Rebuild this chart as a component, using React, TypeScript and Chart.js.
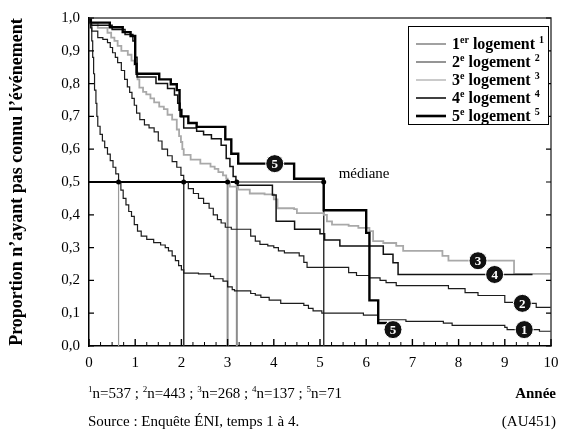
import React, { useEffect, useRef } from 'react';
import { Chart, registerables } from 'chart.js';
Chart.register(...registerables);

// ---- data ----
const xTickLabels = ['0', '1', '2', '3', '4', '5', '6', '7', '8', '9', '10'];
const xTickValues = [0, 1, 2, 3, 4, 5, 6, 7, 8, 9, 10];
const yTickValues = [0, 0.1, 0.2, 0.3, 0.4, 0.5, 0.6, 0.7, 0.8, 0.9, 1.0];

const curve1: [number, number][] = [
  [0, 1.0], [0.03, 0.97], [0.06, 0.93], [0.08, 0.88], [0.1, 0.83], [0.12, 0.78], [0.15, 0.74], [0.17, 0.7],
  [0.19, 0.67], [0.24, 0.645], [0.29, 0.625], [0.34, 0.605], [0.4, 0.585], [0.46, 0.565], [0.52, 0.545],
  [0.58, 0.525], [0.64, 0.5], [0.69, 0.475], [0.74, 0.45], [0.8, 0.43], [0.86, 0.41], [0.92, 0.395],
  [0.98, 0.37], [1.05, 0.35], [1.13, 0.335], [1.25, 0.325], [1.4, 0.315], [1.55, 0.308], [1.65, 0.3],
  [1.72, 0.29], [1.8, 0.275], [1.87, 0.26], [1.94, 0.245], [2.0, 0.232], [2.05, 0.222], [2.37, 0.22],
  [2.63, 0.212], [2.7, 0.205], [2.9, 0.198], [3.0, 0.18], [3.1, 0.172], [3.15, 0.168], [3.5, 0.16],
  [3.6, 0.155], [3.72, 0.148], [3.9, 0.14], [4.15, 0.13], [4.65, 0.124], [4.75, 0.115], [4.85, 0.107],
  [5.04, 0.1], [5.94, 0.094], [6.26, 0.08], [6.86, 0.075], [7.67, 0.07], [7.86, 0.063], [9.0, 0.057],
  [9.05, 0.05], [9.75, 0.045], [10, 0.045],
];
const curve2: [number, number][] = [
  [0, 1.0], [0.03, 0.98], [0.06, 0.96], [0.19, 0.94], [0.3, 0.935], [0.4, 0.925], [0.46, 0.91], [0.51, 0.894],
  [0.57, 0.88], [0.62, 0.864], [0.7, 0.84], [0.77, 0.813], [0.83, 0.79], [0.88, 0.773], [0.93, 0.755],
  [0.98, 0.734], [1.03, 0.71], [1.1, 0.69], [1.2, 0.674], [1.3, 0.665], [1.41, 0.653], [1.5, 0.625],
  [1.58, 0.6], [1.7, 0.58], [1.8, 0.562], [1.9, 0.545], [1.99, 0.52], [2.05, 0.5], [2.15, 0.48],
  [2.26, 0.465], [2.37, 0.45], [2.48, 0.435], [2.6, 0.42], [2.69, 0.4], [2.78, 0.385], [2.86, 0.375],
  [2.95, 0.362], [3.08, 0.356], [3.5, 0.335], [3.6, 0.32], [3.7, 0.31], [3.87, 0.305], [4.0, 0.3],
  [4.1, 0.29], [4.23, 0.284], [4.55, 0.275], [4.65, 0.255], [4.72, 0.24], [5.62, 0.224], [5.79, 0.215],
  [6.07, 0.208], [6.3, 0.2], [6.43, 0.193], [6.65, 0.184], [7.78, 0.175], [8.14, 0.163], [8.42, 0.154],
  [9.0, 0.133], [9.2, 0.13], [9.68, 0.118], [10, 0.118],
];
const curve3: [number, number][] = [
  [0, 1.0], [0.03, 0.985], [0.19, 0.97], [0.4, 0.955], [0.48, 0.94], [0.55, 0.93], [0.62, 0.915], [0.7, 0.9],
  [0.84, 0.888], [0.92, 0.87], [0.98, 0.858], [1.02, 0.835], [1.05, 0.813], [1.09, 0.788], [1.17, 0.775],
  [1.24, 0.767], [1.33, 0.755], [1.41, 0.743], [1.52, 0.73], [1.62, 0.722], [1.7, 0.705], [1.8, 0.69],
  [1.9, 0.66], [1.95, 0.64], [1.99, 0.622], [2.02, 0.6], [2.05, 0.583], [2.2, 0.568], [2.41, 0.556],
  [2.63, 0.547], [2.72, 0.54], [2.8, 0.53], [2.9, 0.52], [2.97, 0.51], [3.0, 0.5], [3.05, 0.486],
  [3.23, 0.477], [3.48, 0.465], [3.8, 0.462], [4.0, 0.447], [4.08, 0.42], [4.44, 0.417], [4.5, 0.405],
  [5.08, 0.4], [5.15, 0.38], [5.26, 0.37], [5.62, 0.366], [5.83, 0.36], [6.07, 0.35], [6.15, 0.32],
  [6.37, 0.314], [6.65, 0.305], [6.8, 0.29], [7.65, 0.275], [7.78, 0.26], [9.2, 0.22], [10, 0.22],
];
const curve4: [number, number][] = [
  [0, 1.0], [0.05, 0.978], [0.5, 0.965], [0.78, 0.95], [0.95, 0.93], [1.0, 0.88], [1.04, 0.82], [1.45, 0.8],
  [1.7, 0.785], [1.85, 0.765], [1.92, 0.74], [1.97, 0.7], [2.05, 0.665], [2.33, 0.655], [2.48, 0.644],
  [2.65, 0.632], [2.86, 0.612], [2.97, 0.572], [3.05, 0.547], [3.12, 0.517], [3.18, 0.5], [3.22, 0.49],
  [3.97, 0.46], [4.05, 0.38], [4.45, 0.356], [5.0, 0.342], [5.1, 0.323], [5.43, 0.305], [6.37, 0.28],
  [6.58, 0.254], [6.69, 0.218], [9.6, 0.218],
];
const curve5: [number, number][] = [
  [0, 1.0], [0.03, 0.986], [0.45, 0.972], [0.73, 0.957], [0.9, 0.945], [1.0, 0.86], [1.03, 0.83],
  [1.52, 0.813], [1.77, 0.798], [1.9, 0.78], [1.96, 0.72], [2.0, 0.7], [2.15, 0.68], [2.33, 0.668],
  [2.95, 0.63], [3.08, 0.586], [3.23, 0.556], [4.44, 0.51], [5.08, 0.414], [6.0, 0.345], [6.07, 0.139],
  [6.26, 0.07], [6.45, 0.07],
];

const medianTimes = [0.64, 2.05, 3.0, 3.2, 5.08];
const medianLevel = 0.5;

const markerLabels = ['1', '2', '3', '4', '5', '5'];
const markerTimes = [9.42, 9.38, 8.42, 8.78, 6.58, 4.02];
const markerValues = [0.05, 0.13, 0.26, 0.218, 0.05, 0.556];

const legendNumbers = ['1', '2', '3', '4', '5'];
const legendOrdinals = ['er', 'e', 'e', 'e', 'e'];
const legendText = 'logement';
const sampleSizes = ['537', '443', '268', '137', '71'];

const yAxisTitle = 'Proportion n\u2019ayant pas connu l\u2019événement';
const xAxisTitle = 'Année';
const sourceText = 'Source : Enquête ÉNI, temps 1 à 4.';
const codeText = '(AU451)';
const medianText = 'médiane';

const SERIF = '"Liberation Serif", "Times New Roman", serif';

const curveStyles = [
  { color: '#1c1c1c', width: 1.2 },
  { color: '#1c1c1c', width: 1.2 },
  { color: '#a9a9a9', width: 1.8 },
  { color: '#111111', width: 1.5 },
  { color: '#000000', width: 2.4 },
];
const legendStyles = [
  { color: '#8a8a8a', width: 1.6 },
  { color: '#7a7a7a', width: 1.6 },
  { color: '#bdbdbd', width: 1.6 },
  { color: '#111111', width: 1.6 },
  { color: '#000000', width: 2.6 },
];
const medianStyles = [
  { color: '#9a9a9a', width: 1.2 },
  { color: '#333333', width: 1 },
  { color: '#8c8c8c', width: 2 },
  { color: '#8c8c8c', width: 2 },
  { color: '#333333', width: 1 },
];

type Part = { t: string; sup?: boolean };
function drawRich(ctx: CanvasRenderingContext2D, parts: Part[], x: number, y: number, size: number, bold: boolean, align: 'left' | 'right' = 'left') {
  const w = (p: Part) => {
    ctx.font = `${bold ? 'bold ' : ''}${p.sup ? Math.round(size * 0.6) : size}px ${SERIF}`;
    return ctx.measureText(p.t).width;
  };
  const total = parts.reduce((s, p) => s + w(p), 0);
  let cx = align === 'left' ? x : x - total;
  ctx.textAlign = 'left';
  ctx.textBaseline = 'alphabetic';
  for (const p of parts) {
    ctx.font = `${bold ? 'bold ' : ''}${p.sup ? Math.round(size * 0.6) : size}px ${SERIF}`;
    ctx.fillText(p.t, cx, p.sup ? y - size * 0.4 : y);
    cx += ctx.measureText(p.t).width;
  }
}

const overlay = {
  id: 'overlay',
  afterDraw(chart: any) {
    const ctx: CanvasRenderingContext2D = chart.ctx;
    const xs = chart.scales.x;
    const ys = chart.scales.y;
    const a = chart.chartArea;
    ctx.save();
    // frame top and right
    ctx.strokeStyle = '#444';
    ctx.lineWidth = 1.5;
    ctx.beginPath();
    ctx.moveTo(a.left, a.top);
    ctx.lineTo(a.right, a.top);
    ctx.lineTo(a.right, a.bottom);
    ctx.stroke();
    // y ticks left and right (inward)
    ctx.strokeStyle = '#000';
    ctx.lineWidth = 1.2;
    for (const v of yTickValues) {
      const py = ys.getPixelForValue(v);
      ctx.beginPath();
      ctx.moveTo(a.left, py); ctx.lineTo(a.left + 5, py);
      ctx.moveTo(a.right, py); ctx.lineTo(a.right - 5, py);
      ctx.stroke();
    }
    // x ticks major + minor
    for (let i = 0; i < xTickValues.length; i++) {
      const v = xTickValues[i];
      const px = xs.getPixelForValue(v);
      ctx.lineWidth = 1.4;
      ctx.beginPath(); ctx.moveTo(px, a.bottom); ctx.lineTo(px, a.bottom - 7); ctx.stroke();
      if (i < xTickValues.length - 1) {
        ctx.lineWidth = 1;
        for (const f of [0.25, 0.5, 0.75]) {
          const mx = xs.getPixelForValue(v + f);
          ctx.beginPath(); ctx.moveTo(mx, a.bottom); ctx.lineTo(mx, a.bottom - 4); ctx.stroke();
        }
      }
    }
    // x tick labels
    ctx.fillStyle = '#000';
    ctx.font = `15px ${SERIF}`;
    ctx.textBaseline = 'middle';
    for (let i = 0; i < xTickValues.length; i++) {
      let px = xs.getPixelForValue(xTickValues[i]);
      const tw = ctx.measureText(xTickLabels[i]).width;
      if (px + tw / 2 > 559) px = 559 - tw / 2;
      ctx.textAlign = 'center';
      ctx.fillText(xTickLabels[i], px, a.bottom + 17);
    }
    // y axis title
    ctx.save();
    ctx.translate(17, (a.top + a.bottom) / 2);
    ctx.rotate(-Math.PI / 2);
    ctx.font = `bold 18px ${SERIF}`;
    ctx.textAlign = 'center';
    ctx.textBaseline = 'middle';
    ctx.fillText(yAxisTitle, 0, 0);
    ctx.restore();
    // median text
    const mx = xs.getPixelForValue(medianTimes[medianTimes.length - 1]);
    const my = ys.getPixelForValue(medianLevel);
    ctx.font = `15px ${SERIF}`;
    ctx.textAlign = 'left';
    ctx.textBaseline = 'middle';
    ctx.fillText(medianText, mx + 15, my - 8);
    // markers labels
    ctx.font = `bold 13px ${SERIF}`;
    ctx.textAlign = 'center';
    ctx.textBaseline = 'middle';
    ctx.fillStyle = '#fff';
    for (let i = 0; i < markerLabels.length; i++) {
      ctx.fillText(markerLabels[i], xs.getPixelForValue(markerTimes[i]), ys.getPixelForValue(markerValues[i]) + 1);
    }
    // legend
    const lx = 408, ly = 26, lw = 140, lh = 98;
    ctx.fillStyle = '#fff';
    ctx.fillRect(lx, ly, lw, lh);
    ctx.strokeStyle = '#000';
    ctx.lineWidth = 1;
    ctx.strokeRect(lx + 0.5, ly + 0.5, lw, lh);
    for (let i = 0; i < legendNumbers.length; i++) {
      const ry = ly + 18 + i * 18;
      ctx.strokeStyle = legendStyles[i].color;
      ctx.lineWidth = legendStyles[i].width;
      ctx.beginPath(); ctx.moveTo(lx + 8, ry); ctx.lineTo(lx + 38, ry); ctx.stroke();
      ctx.fillStyle = '#000';
      drawRich(ctx, [
        { t: legendNumbers[i] }, { t: legendOrdinals[i], sup: true }, { t: ' ' + legendText + ' ' },
        { t: legendNumbers[i], sup: true },
      ], lx + 44, ry + 5, 16, true);
    }
    // bottom texts
    ctx.fillStyle = '#000';
    const nParts: Part[] = [];
    sampleSizes.forEach((n, i) => {
      nParts.push({ t: String(i + 1), sup: true });
      nParts.push({ t: 'n=' + n + (i < sampleSizes.length - 1 ? ' ; ' : '') });
    });
    drawRich(ctx, nParts, 88, 398, 15, false);
    drawRich(ctx, [{ t: xAxisTitle }], 556, 398, 15, true, 'right');
    drawRich(ctx, [{ t: sourceText }], 88, 426, 15, false);
    drawRich(ctx, [{ t: codeText }], 556, 426, 15, false, 'right');
    ctx.restore();
  },
};

export default function App() {
  const ref = useRef<HTMLCanvasElement>(null);
  useEffect(() => {
    document.body.style.margin = '0';
    const pts = (a: [number, number][]) => a.map(([x, y]) => ({ x, y }));
    const curves = [curve1, curve2, curve3, curve4, curve5];
    const datasets: any[] = [];
    // median lines
    medianTimes.forEach((t, i) => {
      datasets.push({
        type: 'line', data: [{ x: t, y: medianLevel }, { x: t, y: 0 }],
        borderColor: medianStyles[i].color, borderWidth: medianStyles[i].width, pointRadius: 0, order: 10,
      });
    });
    datasets.push({
      type: 'line', data: [{ x: 0, y: medianLevel }, { x: medianTimes[3], y: medianLevel }],
      borderColor: '#000', borderWidth: 2.2, pointRadius: 0, order: 9,
    });
    datasets.push({
      type: 'line', data: [{ x: medianTimes[3], y: medianLevel }, { x: medianTimes[4], y: medianLevel }],
      borderColor: '#8c8c8c', borderWidth: 2, pointRadius: 0, order: 9,
    });
    curves.forEach((c, i) => {
      datasets.push({
        type: 'line', data: pts(c), stepped: 'before', borderColor: curveStyles[i].color,
        borderWidth: curveStyles[i].width, pointRadius: 0, fill: false, order: 5 - i,
      });
    });
    datasets.push({
      type: 'scatter', data: medianTimes.map((t) => ({ x: t, y: medianLevel })),
      pointRadius: 2.5, backgroundColor: '#000', borderWidth: 0, order: 0,
    });
    datasets.push({
      type: 'scatter', data: markerTimes.map((t, i) => ({ x: t, y: markerValues[i] })),
      pointRadius: 9, backgroundColor: '#111', borderColor: '#fff', borderWidth: 1, order: -1,
    });
    const chart = new Chart(ref.current!, {
      type: 'line',
      data: { datasets },
      options: {
        responsive: false,
        animation: false,
        events: [],
        layout: { padding: { left: 0, right: 4, top: 15, bottom: 0 } },
        plugins: { legend: { display: false }, tooltip: { enabled: false } },
        scales: {
          x: {
            type: 'linear', min: 0, max: 10,
            ticks: { display: false },
            grid: { display: false, drawTicks: false },
            border: { display: true, color: '#000', width: 1.5 },
            afterFit: (s: any) => { s.height = 89; },
          },
          y: {
            type: 'linear', min: 0, max: 1,
            afterBuildTicks: (s: any) => { s.ticks = yTickValues.map((v) => ({ value: v })); },
            ticks: {
              callback: (v: any) => Number(v).toFixed(1).replace('.', ','),
              font: { family: SERIF, size: 15 }, color: '#000', padding: 9,
            },
            grid: { display: false, drawTicks: false },
            border: { display: true, color: '#000', width: 1.5 },
            afterFit: (s: any) => { s.width = 89; },
          },
        },
      } as any,
      plugins: [overlay],
    });
    return () => chart.destroy();
  }, []);
  return <canvas ref={ref} width={561} height={435} style={{ display: 'block' }} />;
}
